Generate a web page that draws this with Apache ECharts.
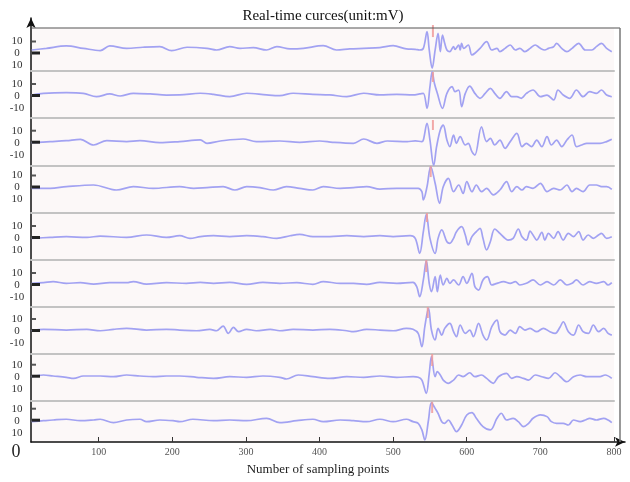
<!DOCTYPE html>
<html><head><meta charset="utf-8">
<script src="https://cdn.jsdelivr.net/npm/echarts@6/dist/echarts.min.js"></script>
<style>html,body{margin:0;padding:0;background:#fff}#c{width:630px;height:482px}</style>
</head><body><div id="c"></div>
<script>
const titleText = 'Real-time curces(unit:mV)';
const xAxisName = 'Number of sampling points';
const originLabel = '0';
const xTickValues = [100, 200, 300, 400, 500, 600, 700, 800];
const yTickValues = [10, 0, -10];
const yTickLabels = [
  ['10', '0', '10'], ['10', '0', '-10'], ['10', '0', '-10'],
  ['10', '0', '10'], ['10', '0', '10'], ['10', '0', '-10'],
  ['10', '0', '-10'], ['10', '0', '10'], ['10', '0', '10']
];

// channel waveforms: [sampling point, mV]
const ch1 = [[9,2.9],[29,4.3],[56,6.3],[79,4.3],[102,2.4],[115,6.3],[138,4.3],[160,5.2],[183,5.7],[199,2.4],[220,5.2],[247,4.3],[260,2.9],[278,5.7],[292,4.3],[310,4.9],[328,2.9],[342,5.7],[360,3.8],[378,4.3],[405,6.5],[423,2.9],[441,3.8],[460,4.3],[482,4.9],[500,6.5],[518,3.8],[530,3.5],[536,2.9],[541,4.3],[546,18.2],[549,3],[553,-12.3],[557,2.9],[561,16.8],[564,1.5],[567,15.4],[570,8.5],[573,2.9],[577,1.5],[582,5.7],[584,3.5],[589,7.1],[591,2.9],[593,8.5],[596,4.3],[602,7.1],[607,-1.2],[611,0.2],[618,4.3],[627,9.9],[634,2.9],[641,4.3],[645,1.5],[652,4.3],[659,7.1],[666,2.9],[672,4.3],[679,1.5],[686,4.3],[693,7.1],[700,4.3],[706,2.9],[711,4.3],[718,5.7],[722,8.5],[729,4.3],[736,1.5],[743,4.3],[752,8.5],[761,2.9],[770,2.9],[776,5.7],[783,8.5],[790,4.3],[797,1.5]];
const ch2 = [[9,0.8],[25,2.2],[56,2.8],[79,2.2],[97,-0.6],[115,1.7],[129,0],[147,2.2],[170,1.7],[192,0.8],[210,0.9],[238,2.3],[256,1.4],[278,-0.5],[301,2.3],[328,0.9],[346,0.3],[364,2.3],[391,1.4],[414,0.9],[437,-0.5],[460,2.3],[482,0.9],[505,1.4],[527,0.9],[536,1.7],[541,2.2],[546,-10.3],[550,7.8],[553,20.3],[556,10.6],[560,2.2],[567,-10.3],[573,2.2],[580,7.8],[584,3.6],[589,5],[593,-8.9],[598,2.2],[604,8.3],[611,2.2],[618,-1.9],[625,2.2],[632,6.4],[638,2.2],[645,-1.9],[654,3.6],[661,-0.6],[668,-0.6],[674,-1.9],[681,2.2],[690,5],[700,-0.6],[709,0.8],[718,-3.3],[724,5],[731,0.8],[740,-1.9],[749,5],[758,-0.6],[767,3.6],[776,2.2],[783,5],[790,0.8],[797,-0.6]];
const ch3 = [[9,0],[34,0.9],[56,1.7],[75,2.8],[93,-1.9],[111,1.7],[138,0.9],[156,1.7],[183,0],[210,0.9],[238,2.3],[247,-0.5],[265,1.4],[296,3.1],[314,0.9],[346,1.4],[373,0.3],[400,1.4],[418,0.3],[446,-0.5],[460,3.1],[478,-0.5],[492,1.4],[519,0.9],[530,1.5],[539,0.9],[541,2.2],[546,16.1],[550,2.2],[555,-19],[559,-3.3],[564,10.6],[568,14.7],[573,2.2],[577,-3.3],[582,6.4],[586,-0.5],[591,5],[598,-1.9],[602,-0.5],[607,-7.5],[611,-10.3],[620,13.3],[627,0.9],[632,3.6],[638,-1.9],[645,2.2],[652,-4.7],[659,0.9],[668,7.8],[675,-3.3],[681,-0.5],[688,-3.3],[695,2.2],[702,-3.3],[709,5],[715,-1.9],[722,2.2],[729,-3.3],[736,2.2],[743,6.4],[749,-3.3],[756,-1.9],[763,-0.5],[772,-0.5],[781,-0.5],[790,0.9],[797,2.8]];
const ch4 = [[9,-0.7],[34,-0.7],[56,0.7],[93,2.1],[124,-2.1],[147,0.7],[174,-0.7],[210,0.7],[229,-0.7],[247,-0.1],[269,0.7],[285,-2.1],[301,0.7],[319,-0.1],[337,-2.1],[355,0.7],[373,-0.7],[391,-2.1],[405,0.7],[428,-0.7],[446,-0.1],[464,0.7],[482,-1.3],[505,-0.7],[525,-0.7],[534,-0.7],[539,-3.5],[541,-10.4],[546,0.7],[551,17.4],[557,3.5],[563,-13.2],[568,0.7],[575,7.6],[582,-3.5],[589,2.1],[595,-4.9],[600,4.9],[607,-3.5],[613,2.1],[620,-3.5],[627,-0.7],[636,-6.2],[645,-2.1],[654,4.9],[661,-3.5],[668,0.7],[675,-2.1],[681,0.7],[690,-0.7],[700,3.5],[709,-3.5],[718,-0.7],[727,-2.1],[736,2.1],[743,-3.5],[749,-0.7],[758,-3.5],[767,2.1],[776,2.1],[783,0.7],[790,0.7],[797,-1.5]];
const ch5 = [[9,-0.3],[34,0.5],[56,1.1],[84,0.5],[102,1.6],[138,0.5],[165,2.5],[192,0.5],[210,1.9],[224,-0.3],[238,1.1],[256,1.9],[278,1.1],[301,1.9],[323,1.1],[342,-0.3],[360,1.9],[373,3.0],[391,1.1],[414,1.1],[437,1.9],[460,1.1],[482,1.9],[500,1.1],[523,1.9],[530,-0.3],[536,-12.8],[541,5.3],[545,19.7],[550,-0.3],[557,-12.8],[561,-0.3],[566,6.7],[573,-3.1],[577,-4.4],[582,-0.3],[586,5.3],[593,9.4],[598,2.5],[602,-5.8],[607,1.1],[613,5.3],[618,8.1],[622,-0.3],[627,-10],[632,-3.1],[638,7.5],[645,3.9],[652,-0.3],[656,-1.7],[663,-0.3],[670,7.5],[675,1.1],[681,-1.7],[686,5.8],[690,2.5],[695,-1.7],[702,4.7],[706,-1.7],[711,3.9],[718,-0.3],[724,5.3],[731,-1.7],[738,3.9],[745,1.1],[752,5.3],[758,-1.7],[765,2.5],[772,-0.3],[779,2.5],[783,3.9],[790,-0.3],[797,1.1]];
const ch6 = [[9,1.4],[25,1.9],[38,2.8],[56,1.4],[75,1.9],[93,0.8],[115,1.9],[138,1.9],[147,2.8],[165,0.8],[192,1.9],[219,1.4],[238,2.2],[256,1.4],[278,2.2],[301,0.6],[323,2.2],[346,1.4],[369,1.9],[391,0.6],[405,2.8],[428,1.4],[446,1.4],[464,0.6],[482,2.2],[505,1.4],[527,2.2],[532,-1.4],[536,-9.7],[541,4.2],[545,20.3],[549,1.4],[552,-5.6],[557,6.9],[560,-5.6],[564,8.3],[568,0],[573,5.6],[577,1.4],[582,4.2],[589,0],[595,6.9],[600,1.4],[607,9.7],[611,-1.4],[616,-4.2],[622,4.2],[628,6.9],[634,0],[641,1.4],[650,2.8],[659,1.4],[666,2.8],[672,0],[681,1.4],[690,4.2],[700,0],[709,2.8],[718,0],[727,4.2],[736,0],[743,1.4],[749,4.2],[758,0],[767,2.8],[776,1.4],[786,2.8],[792,0],[797,1.9]];
const ch7 = [[9,0.2],[25,1.4],[56,0.8],[84,1.4],[102,0.2],[120,1.4],[138,2.2],[165,0.8],[192,1.4],[210,0.8],[233,0.2],[251,1.4],[260,0.2],[269,4.1],[276,-2],[283,3.0],[290,-0.6],[301,1.4],[314,0.2],[333,1.4],[346,0.2],[364,1.4],[391,0.8],[414,1.4],[437,0.2],[446,-0.6],[464,1.4],[482,0.8],[500,0.2],[518,2.2],[527,1.4],[534,-2],[539,-13.1],[543,3.6],[548,18.9],[552,0.8],[557,-7.5],[561,2.2],[566,-3.4],[570,2.2],[577,6.4],[582,-0.6],[586,-4.7],[591,5],[598,-2],[604,0.8],[609,-4.7],[616,6.4],[622,-3.4],[627,-7.5],[634,3.6],[641,9.1],[645,-0.6],[652,-3.4],[659,0.8],[666,-2],[672,3.6],[679,0.8],[686,2.2],[695,-0.6],[704,2.2],[713,-0.6],[720,-2],[727,3.6],[731,7.7],[738,-0.6],[745,-3.4],[752,5],[758,-0.6],[765,-2],[772,5],[779,-0.6],[786,2.2],[792,-2],[797,-3.4]];
const ch8 = [[9,0],[25,1.4],[38,0.6],[56,-0.5],[66,-1.4],[79,0.6],[102,0.6],[120,0],[138,1.4],[156,0.6],[174,0],[192,0.6],[210,0.6],[233,-0.5],[256,-1.4],[278,0],[301,-0.5],[323,0.6],[346,-0.5],[355,-1.9],[371,1.4],[391,0],[414,-1.4],[437,0],[460,-0.5],[482,0.6],[505,-0.5],[527,0],[534,-0.5],[539,-2.8],[545,-13.9],[549,2.8],[552,16.7],[557,0],[560,4.2],[564,1.4],[568,-2.8],[575,-5.5],[582,-2.8],[589,1.4],[595,0],[604,3.3],[611,0],[620,1.4],[627,-1.4],[636,-5.5],[643,0],[654,2.8],[661,-1.4],[668,0],[677,-1.4],[684,-2.8],[693,1.4],[702,0],[711,-1.4],[720,3.3],[727,0],[736,-4.2],[745,0],[754,1.4],[763,0],[772,0],[781,0],[788,1.4],[797,-1.4]];
const ch9 = [[9,-0.8],[25,0],[38,0.6],[56,1.2],[75,0],[93,0.6],[102,1.2],[120,-1.6],[138,0.6],[156,1.2],[165,-0.8],[183,0.6],[201,0],[210,-0.8],[228,1.2],[256,0],[278,0.6],[301,0],[328,2],[346,-1.6],[369,0],[391,1.2],[405,-0.8],[428,0.6],[446,0],[464,-0.8],[482,1.2],[500,-0.8],[518,1.2],[527,-0.8],[534,-2.2],[539,-7.7],[543,-16],[548,0.6],[552,15],[557,10.3],[561,6.2],[566,-0.8],[570,-2.2],[575,0.6],[580,-3.6],[586,-9.1],[593,-3.6],[600,4.8],[607,6.7],[613,2],[622,-4.9],[632,-7.7],[641,2],[647,6.2],[654,0.6],[663,2],[670,-0.8],[677,-4.9],[684,-2.2],[690,2],[700,4.8],[709,3.4],[715,-0.8],[722,-2.2],[731,-2.2],[738,-3.6],[745,0.6],[754,-0.8],[761,0.6],[767,2],[776,0.6],[786,2],[792,0.6],[797,-1.6]];
const channels = [ch1, ch2, ch3, ch4, ch5, ch6, ch7, ch8, ch9];

// arrival markers (sampling point, top mV, bottom mV)
const arrivalX = [554, 554, 554, 551, 546, 545, 547, 553, 553];
const arrivalTop = [23.7, 20, 18.9, 17.9, 20.8, 20.8, 20, 18.9, 15.8];
const arrivalBottom = [13.7, 11.7, 10.6, 8.7, 13.3, 10.8, 10.8, 8.9, 6.4];

// ---- layout (px) ----
const panelEdges = [28, 71, 118, 166, 213, 260, 307, 354, 401, 442];
const panelZero = [53.5, 96, 142.7, 187.5, 238, 285, 331, 376.7, 420.7];
const pxPerMv = 1.2;
const serif = "'Liberation Serif','DejaVu Serif',serif";
const lineColor = '#a2a2f2';

const grids = [], xAxes = [], yAxes = [], series = [], graphics = [];
for (let i = 0; i < 9; i++) {
  const top = panelEdges[i], bottom = panelEdges[i + 1];
  grids.push({ left: 31, right: 16, top: top, height: bottom - top, show: true,
    backgroundColor: '#fcf8f8', borderWidth: 0, containLabel: false });
  xAxes.push({ type: 'value', gridIndex: i, min: 8, max: 800, position: 'bottom',
    axisLine: { show: i < 8, onZero: false, lineStyle: { color: '#c3c3c3', width: 2 } },
    axisTick: { show: false }, axisLabel: { show: false }, splitLine: { show: false } });
  const labels = yTickLabels[i];
  yAxes.push({ type: 'value', gridIndex: i,
    max: (panelZero[i] - top) / pxPerMv, min: -(bottom - panelZero[i]) / pxPerMv,
    axisLine: { show: false, onZero: false }, axisTick: { show: false }, splitLine: { show: false },
    axisLabel: { customValues: yTickValues, margin: 14, align: 'center',
      fontFamily: serif, fontSize: 11, color: '#333',
      formatter: v => v > 0 ? labels[0] : (v === 0 ? labels[1] : labels[2]) } });
  series.push({ type: 'line', xAxisIndex: i, yAxisIndex: i, data: channels[i],
    showSymbol: false, smooth: 0.35, silent: true, z: 3,
    lineStyle: { color: lineColor, width: 1.7 } });
  series.push({ type: 'line', xAxisIndex: i, yAxisIndex: i, clip: false,
    data: [[arrivalX[i], arrivalTop[i]], [arrivalX[i], arrivalBottom[i]]],
    showSymbol: false, silent: true, z: 4,
    lineStyle: { color: '#f09a9a', width: 2, opacity: 0.85 } });
  graphics.push({ type: 'rect', shape: { x: 32, y: panelZero[i] - 2, width: 8, height: 3 },
    style: { fill: '#222' }, z: 10 });
  graphics.push({ type: 'rect', shape: { x: 32, y: panelZero[i] - 13, width: 4, height: 2 },
    style: { fill: '#555' }, z: 10 });
}
// frame axes
grids.push({ left: 31, right: 5, top: 18, bottom: 40, show: false });
xAxes.push({ type: 'value', gridIndex: 9, min: 8, max: 815, position: 'bottom',
  axisLine: { show: true, onZero: false, lineStyle: { color: '#111', width: 1.5 },
    symbol: ['none', 'arrow'], symbolSize: [7, 10] },
  axisTick: { show: true, inside: true, length: 5, customValues: xTickValues,
    lineStyle: { color: '#333', width: 1 } },
  axisLabel: { customValues: xTickValues, margin: 5, fontFamily: serif, fontSize: 10, color: '#555' },
  splitLine: { show: false } });
yAxes.push({ type: 'value', gridIndex: 9, min: 0, max: 1,
  axisLine: { show: true, onZero: false, lineStyle: { color: '#111', width: 1.5 },
    symbol: ['none', 'arrow'], symbolSize: [7, 10] },
  axisTick: { show: false }, axisLabel: { show: false }, splitLine: { show: false } });

graphics.push({ type: 'line', shape: { x1: 31, y1: 28, x2: 620, y2: 28 },
  style: { stroke: '#555', lineWidth: 1.2 }, z: 10 });
graphics.push({ type: 'line', shape: { x1: 620, y1: 28, x2: 620, y2: 442 },
  style: { stroke: '#777', lineWidth: 1.5 }, z: 10 });
graphics.push({ type: 'text', x: 16, y: 452, style: { text: originLabel, font: "18px " + serif,
  fill: '#222', textAlign: 'center', textVerticalAlign: 'middle' }, z: 10 });
graphics.push({ type: 'text', x: 318, y: 470, style: { text: xAxisName, font: "13px " + serif,
  fill: '#222', textAlign: 'center', textVerticalAlign: 'middle' }, z: 10 });

const chart = echarts.init(document.getElementById('c'));
chart.setOption({
  animation: false,
  backgroundColor: '#fff',
  title: { text: titleText, left: 318, textAlign: 'center', top: 4,
    textStyle: { fontFamily: serif, fontSize: 15, fontWeight: 'normal', color: '#111' } },
  grid: grids, xAxis: xAxes, yAxis: yAxes, series: series, graphic: graphics
});
</script></body></html>
